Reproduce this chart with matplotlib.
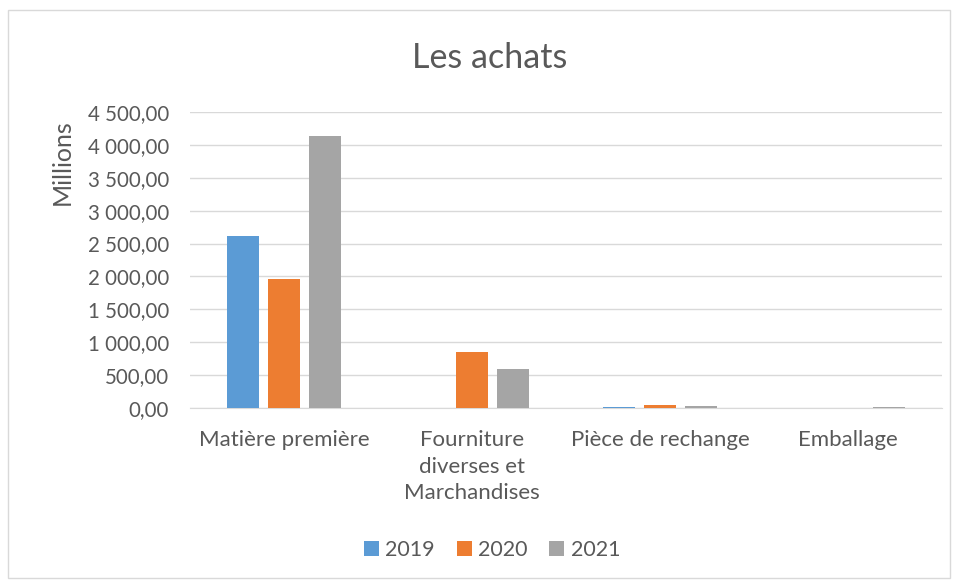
import numpy as np
import matplotlib.pyplot as plt
from matplotlib.patches import Rectangle

# data (millions)
categories = ["Matière première", "Fourniture\ndiverses et\nMarchandises", "Pièce de rechange", "Emballage"]
years = ["2019", "2020", "2021"]
v2019 = [2620, 0, 10, 0]
v2020 = [1960, 850, 40, 0]
v2021 = [4140, 595, 38, 12]
colors = ["#5B9BD5", "#ED7D31", "#A5A5A5"]
yticks = [0, 500, 1000, 1500, 2000, 2500, 3000, 3500, 4000, 4500]

plt.rcParams['font.family'] = ['Lato', 'DejaVu Sans']

fig = plt.figure(figsize=(9.57, 5.8), dpi=100)
fig.patches.append(Rectangle((8 / 957, 2 / 580), 942 / 957, 568 / 580, transform=fig.transFigure,
                             fill=False, edgecolor="#D9D9D9", linewidth=1))
ax = fig.add_axes([190 / 957, 1 - 408 / 580, 752 / 957, 296 / 580])

x = np.arange(len(categories))
step = 0.218
width = 0.168
for i, (vals, yr) in enumerate(zip([v2019, v2020, v2021], years)):
    ax.bar(x + (i - 1) * step, vals, width, color=colors[i], label=yr, zorder=3)

ax.set_xlim(-0.5, len(categories) - 0.5)
ax.set_ylim(0, 4500)
ax.set_yticks(yticks)
ax.set_yticklabels(["{:,.2f}".format(v).replace(",", " ").replace(".", ",") for v in yticks],
                   fontsize=14.8, color="#595959")
ax.set_xticks(x)
ax.set_xticklabels(categories, fontsize=16, color="#595959", linespacing=1.4, va="top")
ax.tick_params(axis="both", length=0)
ax.tick_params(axis="x", pad=16)
ax.tick_params(axis="y", pad=15)
ax.grid(axis="y", color="#D9D9D9", linewidth=1, zorder=0)
for s in ["top", "right", "left"]:
    ax.spines[s].set_visible(False)
ax.spines["bottom"].set_color("#D9D9D9")

fig.text(490 / 957, 1 - 58 / 580, "Les achats", ha="center", va="center", fontsize=24.5, color="#595959")
fig.text(62 / 957, 1 - 162 / 580, "Millions", ha="center", va="center", rotation=90, fontsize=18, color="#595959")

fig.legend(loc="center", bbox_to_anchor=(492 / 957, 1 - 550 / 580), ncol=3, frameon=False,
           fontsize=15.5, labelcolor="#595959", handlelength=0.7, handleheight=0.7,
           handletextpad=0.3, columnspacing=1.0)

fig.savefig("out.png", dpi=100)
